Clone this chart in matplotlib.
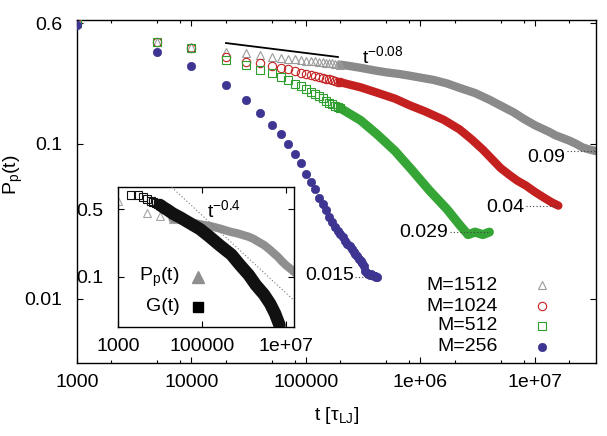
import numpy as np
import matplotlib
matplotlib.use('Agg')
import matplotlib.pyplot as plt
from matplotlib.ticker import FixedLocator, FixedFormatter, NullLocator

plt.rcParams['font.family'] = ['Liberation Sans', 'DejaVu Sans']
plt.rcParams['mathtext.fontset'] = 'custom'
plt.rcParams['mathtext.rm'] = 'Liberation Sans'
plt.rcParams['mathtext.it'] = 'Liberation Sans:italic'
plt.rcParams['mathtext.bf'] = 'Liberation Sans:bold'

# ---------------- data ----------------
t_1512 = [1e3, 5e3, 1e4, 2e4, 3e4, 4e4, 5e4, 6e4, 7e4, 8e4, 9e4, 1e5, 1.1e5, 1.2e5, 1.3e5,
          1.4e5, 1.5e5, 1.6e5, 1.7e5, 1.8e5, 1.9e5, 2e5, 2.5e5, 3e5, 4e5, 5e5, 6.5e5, 8e5,
          1e6, 1.3e6, 1.7e6, 2.2e6, 3e6, 4e6, 5e6, 6.5e6, 8e6, 1e7, 1.2e7, 1.35e7, 1.5e7,
          1.7e7, 2e7, 2.3e7, 2.6e7, 3e7, 3.4e7]
p_1512 = [0.60, 0.455, 0.42, 0.393, 0.387, 0.376, 0.366, 0.36, 0.356, 0.352, 0.348, 0.345,
          0.343, 0.341, 0.339, 0.337, 0.335, 0.333, 0.331, 0.329, 0.327, 0.325, 0.317, 0.31,
          0.298, 0.29, 0.283, 0.276, 0.268, 0.259, 0.246, 0.23, 0.213, 0.193, 0.177, 0.16,
          0.145, 0.132, 0.124, 0.119, 0.114, 0.11, 0.105, 0.1, 0.095, 0.092, 0.09]

t_1024 = [1e3, 5e3, 1e4, 2e4, 3e4, 4e4, 5e4, 6e4, 7e4, 8e4, 9e4, 1e5, 1.1e5, 1.2e5, 1.3e5,
          1.4e5, 1.5e5, 1.6e5, 1.7e5, 1.8e5, 1.9e5, 2e5, 3e5, 4.2e5, 6e5, 8e5, 1.1e6, 1.6e6,
          2.2e6, 2.8e6, 3.5e6, 4.2e6, 5e6, 6e6, 7e6, 8.3e6, 1e7, 1.2e7, 1.4e7, 1.6e7]
p_1024 = [0.60, 0.455, 0.417, 0.365, 0.34, 0.332, 0.32, 0.311, 0.303, 0.295, 0.288, 0.283,
          0.279, 0.275, 0.271, 0.267, 0.264, 0.261, 0.258, 0.255, 0.252, 0.25, 0.232, 0.214,
          0.196, 0.178, 0.162, 0.143, 0.124, 0.107, 0.092, 0.08, 0.07, 0.063, 0.058, 0.054,
          0.049, 0.045, 0.042, 0.04]

t_512 = [1e3, 5e3, 1e4, 2e4, 3e4, 4e4, 5e4, 6e4, 7e4, 8e4, 9e4, 1e5, 1.1e5, 1.2e5, 1.3e5,
         1.4e5, 1.5e5, 1.6e5, 1.7e5, 1.8e5, 1.9e5, 2e5, 3e5, 4.2e5, 6e5, 8.4e5, 1.2e6, 1.7e6,
         2.2e6, 2.6e6, 3e6, 3.5e6, 4e6]
p_512 = [0.60, 0.455, 0.417, 0.35, 0.323, 0.30, 0.287, 0.272, 0.26, 0.245, 0.235, 0.226,
         0.218, 0.21, 0.203, 0.197, 0.19, 0.185, 0.18, 0.176, 0.172, 0.17, 0.142, 0.115,
         0.09, 0.068, 0.05, 0.038, 0.03, 0.026, 0.027, 0.026, 0.027]

t_256 = [1e3, 5e3, 1e4, 2e4, 3e4, 4e4, 5e4, 6e4, 7e4, 8e4, 9e4, 1e5, 1.1e5, 1.2e5, 1.3e5,
         1.4e5, 1.5e5, 1.6e5, 1.7e5, 1.8e5, 1.9e5, 2e5, 2.1e5, 2.2e5, 2.3e5, 2.4e5, 2.5e5,
         2.6e5, 2.7e5, 2.8e5, 2.9e5, 3e5, 3.1e5, 3.2e5, 3.3e5, 3.4e5, 3.5e5, 3.6e5, 3.7e5,
         3.8e5, 3.9e5, 4e5, 4.1e5, 4.2e5]
p_256 = [0.587, 0.392, 0.318, 0.24, 0.193, 0.158, 0.132, 0.116, 0.10, 0.086, 0.075, 0.064,
         0.057, 0.051, 0.045, 0.041, 0.0375, 0.034, 0.0315, 0.029, 0.0275, 0.0263, 0.025,
         0.0237, 0.0226, 0.0218, 0.021, 0.0202, 0.0195, 0.0188, 0.018, 0.0175, 0.017, 0.0162,
         0.0152, 0.0146, 0.0145, 0.0143, 0.0145, 0.0142, 0.014, 0.0141, 0.0139, 0.0138]

t_G = [2e3, 3e3, 4e3, 5e3, 6e3, 7e3, 8e3, 9e3, 1e4, 1.2e4, 1.5e4, 2e4, 3e4, 5e4, 9e4, 1.5e5,
       2.7e5, 5e5, 8e5, 1.3e6, 1.9e6, 3e6, 4.2e6, 5.5e6, 7e6]
G_val = [0.70, 0.69, 0.66, 0.63, 0.61, 0.59, 0.57, 0.56, 0.55, 0.52, 0.49, 0.45, 0.41, 0.36,
         0.31, 0.26, 0.21, 0.17, 0.133, 0.105, 0.083, 0.066, 0.053, 0.042, 0.032]

series_labels = ['M=1512', 'M=1024', 'M=512', 'M=256']
end_labels = ['0.09', '0.04', '0.029', '0.015']

xticks_main = [1e3, 1e4, 1e5, 1e6, 1e7]
xticklabels_main = ['1000', '10000', '100000', '1e+06', '1e+07']
yticks_main = [0.01, 0.1, 0.6]
yticklabels_main = ['0.01', '0.1', '0.6']
xticks_in = [1e3, 1e5, 1e7]
xticklabels_in = ['1000', '100000', '1e+07']
yticks_in = [0.1, 0.5]
yticklabels_in = ['0.1', '0.5']

# ---------------- style ----------------
c_gray = '#8a8a8a'
c_red = '#c42020'
c_green = '#2e9e2e'
c_blue = '#3d3591'
FS = 14

fig = plt.figure(figsize=(6.07, 4.36), dpi=100)
W, H = 607, 436
ax = fig.add_axes([77 / W, 1 - 363 / H, 519 / W, 343 / H])
ax.set_xscale('log')
ax.set_yscale('log')
ax.set_xlim(1000, 3.41e7)
ax.set_ylim(0.00386, 0.631)


def series(a, t, v, color, tmin, marker, ms, band_color=None, lw=6.0, z=2, mec=None):
    t = np.asarray(t)
    v = np.asarray(v)
    m = t >= tmin
    a.plot(t[m], v[m], '-', color=band_color or color, lw=lw, solid_capstyle='round',
           solid_joinstyle='round', zorder=z)
    k = t <= tmin
    a.plot(t[k], v[k], ls='none', marker=marker, ms=ms, mfc='none', mec=mec or color,
           mew=0.8, zorder=z)


series(ax, t_1512, p_1512, c_gray, 2e5, '^', 6, z=2, mec='#9a9a9a')
series(ax, t_1024, p_1024, c_red, 2e5, 'o', 6, z=3)
series(ax, t_512, p_512, c_green, 2e5, 's', 5.2, band_color='#35a535', lw=6.5, z=4)
ax.plot(t_256, p_256, ls='none', marker='o', ms=6, mfc=c_blue, mec=c_blue, mew=0.5, zorder=5)

# power-law guide t^-0.08
tg = np.array([2e4, 1.9e5])
ax.plot(tg, 0.448 * (tg / 2e4) ** -0.092, color='black', lw=1.3, zorder=6)
ax.text(0.549, 0.875, r't$^{-0.08}$', transform=ax.transAxes, fontsize=FS,
        ha='left', va='baseline')

# end-value labels with dotted leaders
label_t = [1.9e7, 8.3e6, 1.8e6, 2.7e5]
label_dy = [-4.5, -1.5, -0.5, 1.5]
for (ts, vs), lt, lab, dy in zip([(t_1512, p_1512), (t_1024, p_1024), (t_512, p_512),
                                  (t_256, p_256)], label_t, end_labels, label_dy):
    ax.plot([lt, ts[-1]], [vs[-1], vs[-1]], color='#444444', lw=0.8,
            ls=(0, (1, 2)), zorder=7)
    ax.annotate(lab, (lt, vs[-1]), xytext=(-1, dy), textcoords='offset points',
                ha='right', va='center', fontsize=FS, zorder=8)

# legend (manual, right-aligned text)
leg_y = [0.227, 0.166, 0.108, 0.047]
leg_styles = [dict(marker='^', ms=6, mfc='none', mec='#9a9a9a', mew=0.8),
              dict(marker='o', ms=6, mfc='none', mec=c_red, mew=0.8),
              dict(marker='s', ms=5.2, mfc='none', mec=c_green, mew=0.8),
              dict(marker='o', ms=6, mfc=c_blue, mec=c_blue, mew=0.5)]
for lab, yy, st in zip(series_labels, leg_y, leg_styles):
    ax.text(0.811, yy, lab, transform=ax.transAxes, fontsize=FS, ha='right', va='center')
    ax.plot([0.896], [yy], transform=ax.transAxes, ls='none', **st)

ax.xaxis.set_major_locator(FixedLocator(xticks_main))
ax.xaxis.set_major_formatter(FixedFormatter(xticklabels_main))
minors = [m * 10 ** e for e in range(3, 8) for m in (2, 5, 8)]
ax.xaxis.set_minor_locator(FixedLocator(minors))
ax.yaxis.set_major_locator(FixedLocator(yticks_main))
ax.yaxis.set_major_formatter(FixedFormatter(yticklabels_main))
ax.yaxis.set_minor_locator(NullLocator())
ax.tick_params(which='both', direction='in', top=True, right=True, width=0.8)
ax.tick_params(which='major', length=4.5, labelsize=FS)
ax.tick_params(which='minor', length=2.5)
ax.tick_params(axis='x', which='major', pad=8)
ax.tick_params(axis='y', which='major', pad=10.5)
for s in ax.spines.values():
    s.set_linewidth(1.0)

ax.set_xlabel(r't [$\mathrm{\tau}_{\mathrm{LJ}}$]', fontsize=FS)
ax.xaxis.set_label_coords(0.5, -0.122)
ax.set_ylabel(r'P$_{\mathrm{p}}$(t)', fontsize=FS)
ax.yaxis.set_label_coords(-0.1, 0.548)

# ---------------- inset ----------------
axi = fig.add_axes([118 / W, 1 - 327 / H, 176 / W, 140 / H])
axi.set_xscale('log')
axi.set_yscale('log')
axi.set_xlim(1000, 1.55e7)
axi.set_ylim(0.0306, 0.842)

series(axi, t_1512, p_1512, '#8f8f8f', 2e4, '^', 5.5, lw=6.0, z=2, mec='#a5a5a5')
series(axi, t_G, G_val, '#111111', 1e4, 's', 5.2, lw=9.0, z=3)

tl = np.array([1e3, 2e7])
axi.plot(tl, 0.215 * (tl / 5.7e5) ** -0.4, color='#777777', lw=0.8, ls=(0, (1, 2)), zorder=4)
axi.text(0.506, 0.786, r't$^{-0.4}$', transform=axi.transAxes, fontsize=FS,
         ha='left', va='baseline')

axi.text(0.352, 0.357, r'P$_{\mathrm{p}}$(t)', transform=axi.transAxes, fontsize=FS,
         ha='right', va='center')
axi.plot([0.455], [0.357], transform=axi.transAxes, ls='none', marker='^', ms=8,
         mfc='#8f8f8f', mec='#8f8f8f')
axi.text(0.352, 0.143, 'G(t)', transform=axi.transAxes, fontsize=FS, ha='right', va='center')
axi.plot([0.455], [0.143], transform=axi.transAxes, ls='none', marker='s', ms=6.5,
         mfc='black', mec='black')

axi.xaxis.set_major_locator(FixedLocator(xticks_in))
axi.xaxis.set_major_formatter(FixedFormatter(xticklabels_in))
axi.xaxis.set_minor_locator(NullLocator())
axi.yaxis.set_major_locator(FixedLocator(yticks_in))
axi.yaxis.set_major_formatter(FixedFormatter(yticklabels_in))
axi.yaxis.set_minor_locator(NullLocator())
axi.tick_params(which='both', direction='in', top=True, right=True, width=0.8,
                length=4.5, labelsize=FS)
axi.tick_params(axis='x', pad=8)
axi.tick_params(axis='y', pad=10.5)
for s in axi.spines.values():
    s.set_linewidth(1.0)

fig.savefig('out.png', dpi=100)
